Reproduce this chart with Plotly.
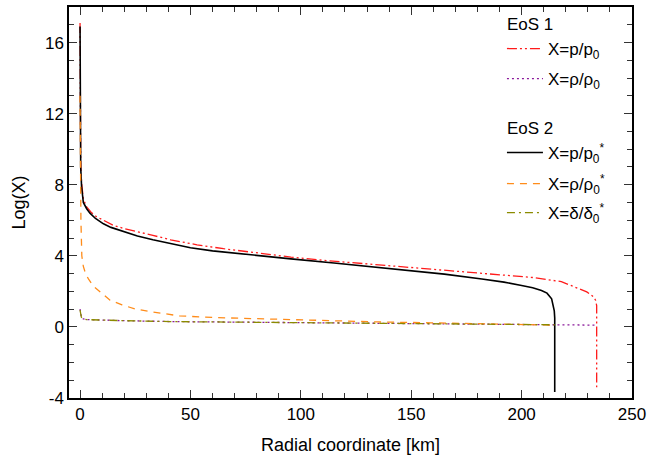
import plotly.graph_objects as go

# EoS 1: X = p/p0
r_p1 = [0, 0.02, 0.05, 0.1, 0.3, 0.7, 1.5, 3, 5, 7.5, 10.6, 15, 20, 26, 33, 41, 53, 65, 80, 95.5,
        110, 125, 136, 150, 165, 177, 190, 205, 218, 222.7, 226, 229.5, 231.5, 232.6, 233.5, 234, 234]
v_p1 = [17.1, 14.0, 12.0, 10.5, 9.2, 8.1, 7.2, 6.75, 6.45, 6.2, 6.0, 5.72, 5.53, 5.37, 5.15, 4.9, 4.62, 4.4, 4.15, 3.93,
        3.75, 3.6, 3.49, 3.37, 3.22, 3.1, 2.95, 2.78, 2.55, 2.33, 2.17, 1.97, 1.8, 1.69, 1.5, 1.2, -3.4]
# EoS 1: X = rho/rho0
r_rho1 = [0, 0.3, 0.6, 1.5, 3, 20, 41, 80, 120, 160, 200, 234]
v_rho1 = [1.0, 0.8, 0.55, 0.45, 0.41, 0.35, 0.3, 0.26, 0.22, 0.18, 0.14, 0.1]
# EoS 2: X = p/p0*
r_p2 = [0, 0.02, 0.05, 0.1, 0.3, 0.7, 1.5, 3, 4.5, 7, 10.6, 14, 18, 26, 33, 41, 50, 60, 75, 95.5,
        115, 136, 150, 165, 182, 192, 200, 205, 209, 211.5, 213.6, 214.4, 214.8, 215, 215]
v_p2 = [16.9, 13.5, 11.5, 10.2, 9.0, 7.9, 7.0, 6.65, 6.4, 6.1, 5.8, 5.6, 5.43, 5.12, 4.9, 4.68, 4.45, 4.28, 4.08, 3.83,
        3.6, 3.32, 3.16, 2.97, 2.7, 2.52, 2.33, 2.2, 2.05, 1.9, 1.58, 1.2, 0.9, 0.5, -3.66]
# EoS 2: X = rho/rho0*
r_rho2 = [0, 0.05, 0.15, 0.4, 0.8, 1.5, 2.5, 3.8, 6, 9, 13.6, 19, 25, 31.8, 38.6, 45, 60, 82, 110, 135, 159, 185, 205, 215]
v_rho2 = [13.0, 10.5, 8.5, 6.0, 4.0, 3.4, 3.0, 2.7, 2.3, 2.0, 1.5, 1.24, 1.01, 0.86, 0.75, 0.62, 0.53, 0.45, 0.35, 0.28, 0.23, 0.17, 0.13, 0.1]
# EoS 2: X = delta/delta0*
r_d2 = [0, 0.3, 0.6, 1.5, 3, 20, 41, 80, 120, 160, 200, 215]
v_d2 = [0.95, 0.8, 0.55, 0.45, 0.41, 0.35, 0.3, 0.26, 0.22, 0.18, 0.14, 0.12]

x_ticks = [0, 50, 100, 150, 200, 250]
y_ticks = [-4, 0, 4, 8, 12, 16]
group_titles = ["EoS 1", "EoS 2"]

FONT = "Liberation Sans, Arial, Helvetica, sans-serif"

fig = go.Figure()
traces = [
    (r_p1, v_p1, "X=p/p<sub>0</sub>", "#ff1a1a", "10px,3px,2px,3px,2px,3px", 1.3, "legend", 0.8926),
    (r_rho1, v_rho1, "X=ρ/ρ<sub>0</sub>", "#8b1a9b", "2px,3px", 1.3, "legend2", 0.8159),
    (r_p2, v_p2, "X=p/p<sub>0</sub><sup>*</sup>", "#000000", "solid", 1.6, "legend3", 0.6266),
    (r_rho2, v_rho2, "X=ρ/ρ<sub>0</sub><sup>*</sup>", "#ff8c1a", "7px,6px", 1.3, "legend4", 0.5473),
    (r_d2, v_d2, "X=δ/δ<sub>0</sub><sup>*</sup>", "#8b8b00", "8px,4px,2px,4px", 1.3, "legend5", 0.4731),
]
legends = {}
for x, y, name, col, dash, w, leg, ly in traces:
    fig.add_trace(go.Scatter(
        x=x, y=y, mode="lines", name=name,
        line=dict(color=col, dash=dash, width=w),
        legend=leg, showlegend=True,
    ))
    legends[leg] = dict(x=0.769, y=ly, xanchor="left", yanchor="middle",
                        bgcolor="rgba(0,0,0,0)", itemwidth=36,
                        font=dict(size=17, family=FONT, color="black"))

for title, ty in zip(group_titles, [0.954, 0.6905]):
    fig.add_annotation(text=title, x=0.7744, y=ty, xref="paper", yref="paper",
                       xanchor="left", yanchor="middle", showarrow=False,
                       font=dict(size=17, family=FONT, color="black"))

axis_common = dict(
    showgrid=False, zeroline=False, showline=True, linecolor="black", linewidth=1.5,
    mirror="ticks", ticks="inside", ticklen=8, tickwidth=1.2, tickcolor="#333",
    tickfont=dict(size=17, family=FONT, color="black"), automargin=False,
)
fig.update_xaxes(
    range=[-5, 250], tickvals=x_ticks, ticktext=[str(t) for t in x_ticks],
    title=dict(text="Radial coordinate [km]", font=dict(size=18, family=FONT, color="black")),
    minor=dict(dtick=10, tick0=0, ticks="inside", ticklen=5, tickcolor="#333", tickwidth=1),
    **axis_common,
)
fig.update_yaxes(
    range=[-4, 18], tickvals=y_ticks, ticktext=[str(t) for t in y_ticks],
    title=dict(text="Log(X)", font=dict(size=18, family=FONT, color="black")),
    minor=dict(dtick=1, tick0=0, ticks="inside", ticklen=5, tickcolor="#333", tickwidth=1),
    **axis_common,
)
fig.update_layout(
    width=668, height=456, autosize=False, showlegend=True,
    margin=dict(l=69, r=36, t=7, b=58),
    plot_bgcolor="white", paper_bgcolor="white",
    font=dict(family=FONT, size=17, color="black"),
    **legends,
)
fig.write_html(
    "out.html",
    config={"displayModeBar": False},
    post_script="document.body.style.margin='0px';document.body.style.padding='0px';document.body.style.overflow='hidden';",
)
